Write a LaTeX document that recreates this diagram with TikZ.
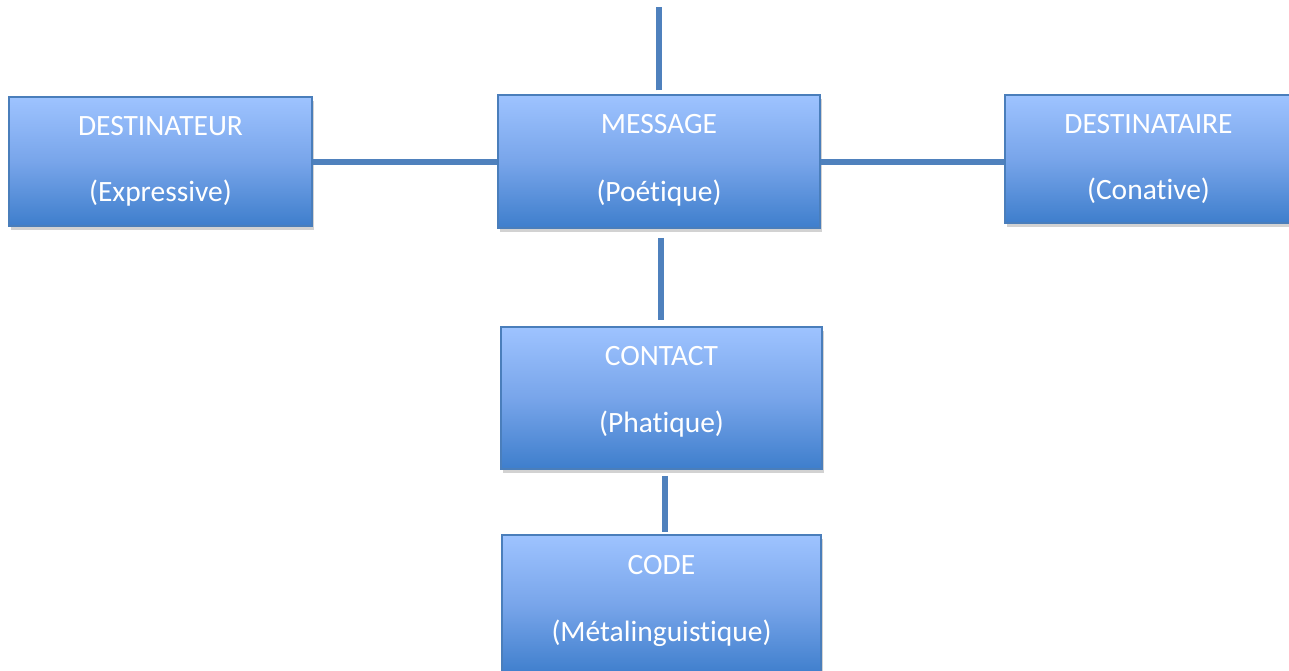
\documentclass[tikz,border=0pt]{standalone}
\usepackage{fontspec}
\setmainfont[Ligatures=NoCommon]{Carlito}
\usetikzlibrary{shadows,calc}
\definecolor{linkblue}{RGB}{79,129,189}
\definecolor{boxborder}{RGB}{74,126,187}
\definecolor{boxtop}{RGB}{158,195,255}
\definecolor{boxmid}{RGB}{120,165,234}
\definecolor{boxbot}{RGB}{62,126,204}
\tikzset{
  fbox/.style={draw=boxborder, line width=1.5pt, rectangle, inner sep=0pt,
    top color=boxtop, bottom color=boxbot, middle color=boxmid,
    drop shadow={shadow xshift=1.5pt, shadow yshift=-3.5pt, opacity=0.25, fill=black!70}},
  ftext/.style={text=white, font=\fontsize{29.5}{34}\selectfont, inner sep=0pt, anchor=center},
  link/.style={draw=linkblue, line width=6pt}
}
\begin{document}
\begin{tikzpicture}[x=1pt,y=-1pt]
\clip (0,0) rectangle (1289,670);
\useasboundingbox (0,0) rectangle (1289,670);
% boxes
\node[fbox, minimum width=303pt, minimum height=129pt] (dest) at (160.5,161.5) {};
\node[fbox, minimum width=322pt, minimum height=133pt] (msg) at (659,161.5) {};
\node[fbox, minimum width=287pt, minimum height=128pt] (dtaire) at (1148.5,159) {};
\node[fbox, minimum width=321pt, minimum height=142pt] (contact) at (661.5,398) {};
\node[fbox, minimum width=319pt, minimum height=140pt] (code) at (661.5,605) {};
% texts
\node[ftext] (t1a) at ($(dest.north)+(0,30)$) {DESTINATEUR};
\node[ftext] (t1b) at ($(dest.north)+(0,97)$) {(Expressive)};
\node[ftext] (t2a) at ($(msg.north)+(0,30)$) {MESSAGE};
\node[ftext] (t2b) at ($(msg.north)+(0,99)$) {(Poétique)};
\node[ftext] (t3a) at ($(dtaire.north)+(0,30)$) {DESTINATAIRE};
\node[ftext] (t3b) at ($(dtaire.north)+(0,97)$) {(Conative)};
\node[ftext] (t4a) at ($(contact.north)+(0,30)$) {CONTACT};
\node[ftext] (t4b) at ($(contact.north)+(0,98)$) {(Phatique)};
\node[ftext] (t5a) at ($(code.north)+(0,31)$) {CODE};
\node[ftext] (t5b) at ($(code.north)+(0,99)$) {(Métalinguistique)};
% connectors
\coordinate (topend) at (659,7);
\draw[link] ($(msg.north)+(0,-4)$) -- (topend);
\draw[link] (dest.east) -- (msg.west);
\draw[link] (msg.east) -- (dtaire.west |- msg.east);
\draw[link] ($(msg.south)+(2,9)$) -- ($(contact.north)+(-0.5,-6)$);
\draw[link] ($(contact.south)+(3.5,6)$) -- ($(code.north)+(3.5,-2)$);
\end{tikzpicture}
\end{document}
